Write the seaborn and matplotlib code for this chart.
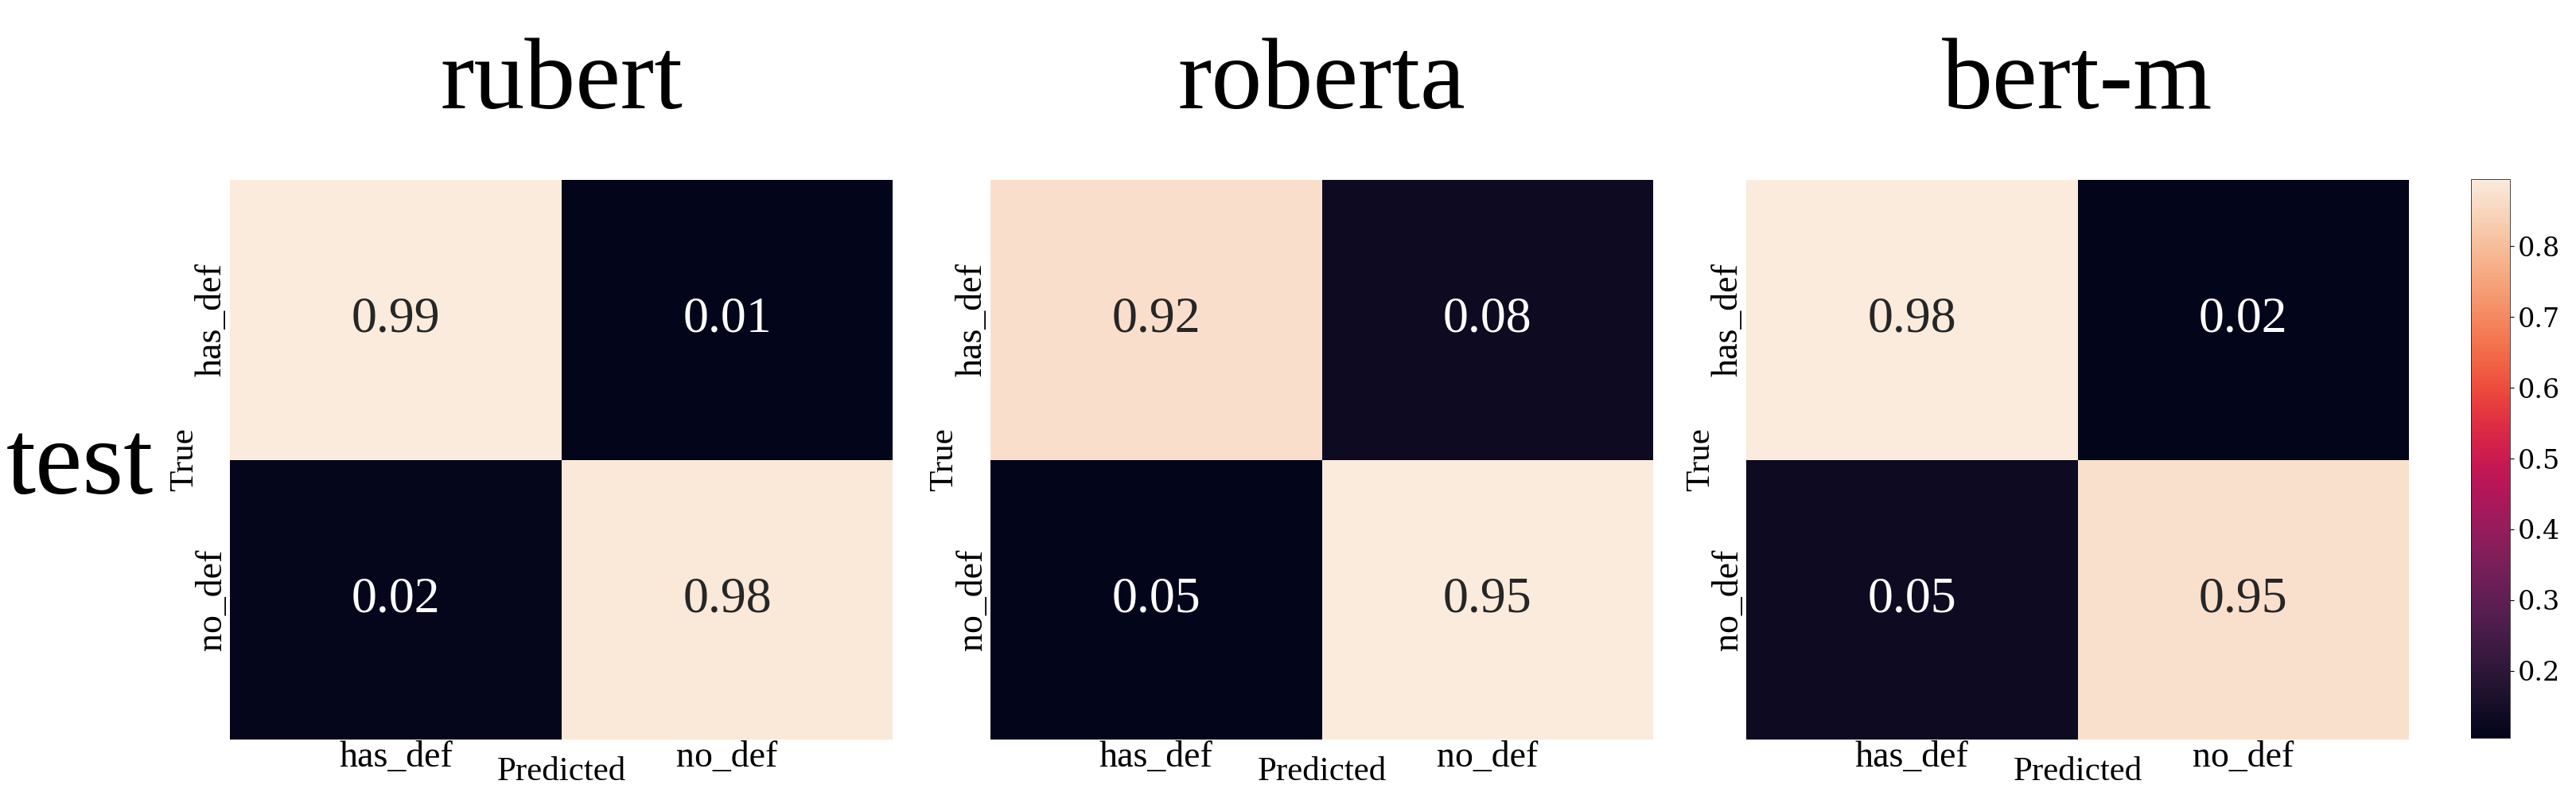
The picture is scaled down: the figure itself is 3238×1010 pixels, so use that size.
import matplotlib.pyplot as plt
import seaborn as sns
from matplotlib.colors import Normalize
from matplotlib.cm import ScalarMappable

labels = ["has_def", "no_def"]
models = ["rubert", "roberta", "bert-m"]
rubert = [[0.99, 0.01], [0.02, 0.98]]
roberta = [[0.92, 0.08], [0.05, 0.95]]
bert_m = [[0.98, 0.02], [0.05, 0.95]]
cbar_min, cbar_max = 0.105, 0.895
cbar_ticks = [0.2, 0.3, 0.4, 0.5, 0.6, 0.7, 0.8]

plt.rcParams["font.family"] = "Liberation Serif"
fig = plt.figure(figsize=(32.38, 10.10), dpi=100)

lefts = [0.0893, 0.3845, 0.6779]
for left, name, cm in zip(lefts, models, [rubert, roberta, bert_m]):
    ax = fig.add_axes([left, 0.0802, 0.2573, 0.696])
    sns.heatmap(
        cm, annot=True, fmt=".2f", cmap="rocket", cbar=False,
        xticklabels=labels, yticklabels=labels,
        annot_kws={"fontsize": 46}, ax=ax
    )
    ax.set_title(name, fontsize=92, pad=65)
    ax.set_xlabel("Predicted", fontsize=31, labelpad=-16)
    ax.set_ylabel("True", fontsize=31, labelpad=-4)
    ax.tick_params(length=0, pad=1, labelsize=33)
    plt.setp(ax.get_yticklabels(), rotation=90, va="center")

fig.text(0.031, 0.386, "test", fontsize=96, ha="center", va="baseline")

# colorbar on its own axes
cax = fig.add_axes([0.9592, 0.0822, 0.0151, 0.695])
sm = ScalarMappable(norm=Normalize(cbar_min, cbar_max), cmap=sns.color_palette("rocket", as_cmap=True))
cb = fig.colorbar(sm, cax=cax, ticks=cbar_ticks)
cb.outline.set_linewidth(0.5)
for t in cax.get_yticklabels():
    t.set_fontfamily("DejaVu Serif")
    t.set_fontsize(24)

fig.savefig("out.png", dpi=100)
